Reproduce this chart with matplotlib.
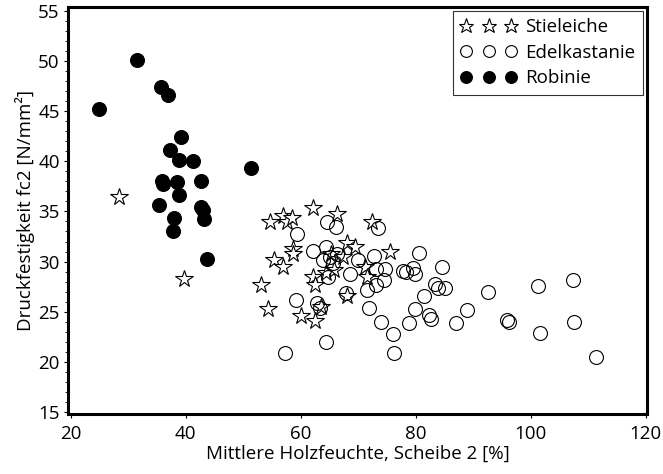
import matplotlib.pyplot as plt
from matplotlib.ticker import MultipleLocator

# Stieleiche (oak)
eiche_x = [28.3, 39.6, 53.0, 54.3, 54.6, 55.3, 56.9, 56.9, 57.6, 58.4, 58.6, 58.7,
           60.0, 62.1, 62.2, 62.4, 62.4, 63.6, 64.4, 65.3, 65.7, 66.3, 67.4, 68.0,
           68.1, 69.5, 71.2, 71.6, 72.4, 75.5]
eiche_y = [36.4, 28.3, 27.7, 25.3, 33.9, 30.2, 29.5, 34.5, 33.9, 34.3, 31.3, 30.8,
           24.6, 35.3, 28.5, 27.7, 24.1, 25.5, 28.9, 30.8, 29.2, 34.7, 30.5, 31.9,
           26.6, 31.5, 29.5, 28.5, 33.9, 31.0]

# Edelkastanie (sweet chestnut)
kastanie_x = [57.2, 59.2, 59.4, 62.1, 62.8, 63.4, 64.4, 64.5, 64.4, 63.9, 64.7, 65.1,
              66.1, 66.3, 68.6, 70.0, 71.5, 71.8, 72.8, 73.0, 73.4, 73.1, 74.0, 74.6,
              74.4, 76.0, 76.3, 77.7, 78.3, 78.8, 79.5, 79.8, 79.8, 80.6, 81.4, 82.3,
              82.6, 83.4, 83.8, 84.6, 85.0, 87.0, 88.9, 92.6, 95.9, 96.3, 101.3, 101.7,
              107.4, 107.5, 111.3, 67.8, 65.6]
kastanie_y = [20.9, 26.2, 32.7, 31.1, 25.9, 25.4, 22.0, 33.9, 31.5, 30.2, 28.5, 30.5,
              33.4, 30.8, 28.8, 30.2, 27.2, 25.4, 30.6, 29.3, 33.3, 27.7, 24.0, 29.3,
              28.2, 22.8, 20.9, 29.1, 29.0, 23.9, 29.4, 28.8, 25.3, 30.9, 26.6, 24.7,
              24.3, 27.8, 27.4, 29.5, 27.4, 23.9, 25.2, 27.0, 24.2, 24.0, 27.6, 22.9,
              28.2, 24.0, 20.5, 26.9, 29.9]

# Robinie (black locust)
robinie_x = [31.5, 24.9, 35.6, 36.9, 39.1, 37.3, 38.8, 41.2, 51.4, 35.8, 36.0, 38.5,
             42.6, 38.8, 35.3, 42.7, 42.9, 43.2, 38.0, 37.7, 43.7]
robinie_y = [50.1, 45.2, 47.4, 46.6, 42.4, 41.1, 40.1, 40.0, 39.3, 38.0, 37.7, 37.9,
             38.0, 36.6, 35.6, 35.4, 35.1, 34.2, 34.3, 33.0, 30.3]

plt.rcParams['font.family'] = ['Open Sans', 'DejaVu Sans']
fs = 13.5

fig = plt.figure(figsize=(6.63, 4.74), dpi=100)
ax = fig.add_axes([0.1026, 0.127, 0.873, 0.858])

ax.plot(eiche_x, eiche_y, ls='none', marker='*', ms=13, mfc='white', mec='black',
        mew=0.8, label='Stieleiche')
ax.plot(kastanie_x, kastanie_y, ls='none', marker='o', ms=10, mfc='none', mec='black',
        mew=0.8, label='Edelkastanie')
ax.plot(robinie_x, robinie_y, ls='none', marker='o', ms=10, mfc='black', mec='black',
        mew=0.8, label='Robinie')

ax.set_xlim(19.5, 120.2)
ax.set_ylim(14.8, 55.4)
ax.xaxis.set_major_locator(MultipleLocator(20))
ax.yaxis.set_major_locator(MultipleLocator(5))
ax.yaxis.set_minor_locator(MultipleLocator(1))
ax.tick_params(axis='both', which='major', direction='out', length=3, width=0.8,
               labelsize=fs)
ax.tick_params(axis='x', which='major', pad=5)
ax.tick_params(axis='y', which='major', pad=3)
ax.tick_params(axis='y', which='minor', direction='out', length=2, width=0.6)

for side in ['left', 'bottom', 'right', 'top']:
    ax.spines[side].set_linewidth(2.2)

ax.set_xlabel('Mittlere Holzfeuchte, Scheibe 2 [%]', fontsize=fs, labelpad=1)
ax.set_ylabel('Druckfestigkeit fc2 [N/mm²]', fontsize=fs, labelpad=2)

leg = ax.legend(loc='upper right', numpoints=3, fontsize=fs, frameon=True,
                fancybox=False, edgecolor='black', handlelength=3.0,
                handletextpad=0.45, labelspacing=0.4, borderpad=0.4,
                borderaxespad=0.2, markerscale=0.85)
leg.get_frame().set_linewidth(0.8)

fig.savefig('out.png', dpi=100)
